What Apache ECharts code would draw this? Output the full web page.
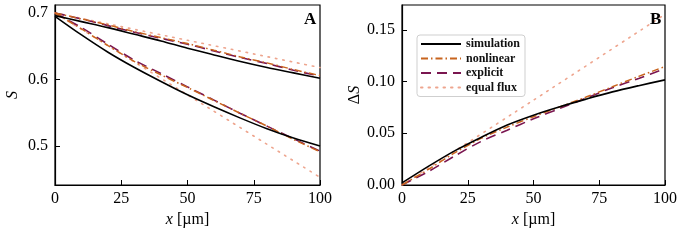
<!DOCTYPE html>
<html><head><meta charset="utf-8">
<script src="https://cdn.jsdelivr.net/npm/echarts@6/dist/echarts.min.js"></script>
<style>html,body{margin:0;padding:0;background:#fff}#c{width:686px;height:240px}</style>
</head><body><div id="c"></div>
<script>
const xs = [0,10,20,30,40,50,60,70,80,90,100];
const xsFlux = [0,50,100];
const xTicks = [0,25,50,75,100];
const yTicksA = [0.5,0.6,0.7];
const yTicksB = [0,0.05,0.1,0.15];
// Panel A: S
const simHigh = [0.696,0.687,0.678,0.668,0.658,0.647,0.637,0.627,0.618,0.610,0.602];
const simLow  = [0.695,0.667,0.641,0.618,0.597,0.577,0.559,0.542,0.526,0.512,0.500];
const nonHigh = [0.700,0.691,0.682,0.672,0.663,0.654,0.644,0.634,0.625,0.615,0.606];
const nonLow  = [0.700,0.676,0.651,0.627,0.607,0.588,0.5685,0.549,0.530,0.510,0.4915];
const expHigh = [0.700,0.691,0.681,0.671,0.662,0.653,0.643,0.633,0.624,0.614,0.605];
const expLow  = [0.700,0.678,0.653,0.629,0.609,0.589,0.569,0.549,0.530,0.511,0.4925];
const fluxHigh = [0.700,0.659,0.618];
const fluxLow  = [0.700,0.577,0.453];
// Panel B: ΔS
const dSim  = [0.002,0.018,0.033,0.046,0.058,0.0675,0.0756,0.083,0.090,0.096,0.1016];
const dNon  = [0.000,0.015,0.031,0.045,0.056,0.066,0.0755,0.085,0.095,0.105,0.1145];
const dExp  = [0.000,0.013,0.028,0.042,0.053,0.064,0.074,0.084,0.094,0.103,0.1125];
const dFlux = [0.000,0.082,0.165];

const names = ['simulation','nonlinear','explicit','equal flux'];
const styles = {
  'simulation': {color:'#000000', width:1.6, type:'solid'},
  'nonlinear': {color:'#c8641e', width:1.5, type:[7,3,1.5,3]},
  'explicit': {color:'#7a1650', width:1.6, type:[10,6]},
  'equal flux': {color:'#eea58e', width:1.6, type:[1.5,6], cap:'round'}
};
const zip = (a,b)=>a.map((v,i)=>[v,b[i]]);
function ser(name, x, y, gi, z){
  const s = styles[name];
  return {type:'line', name, xAxisIndex:gi, yAxisIndex:gi, data:zip(x,y), symbol:'none',
    smooth:0.3, z:z, lineStyle:{color:s.color,width:s.width,type:s.type,cap:s.cap||'butt'},
    itemStyle:{color:s.color}, emphasis:{disabled:true}, animation:false};
}
const font = 'Liberation Serif, DejaVu Serif, serif';
const xAxisCommon = (gi)=>({type:'value', gridIndex:gi, min:0, max:100, interval:25,
  name:'{i|x} [µm]', nameLocation:'middle', nameGap:26,
  nameTextStyle:{fontFamily:font, fontSize:16, color:'#000', rich:{i:{fontStyle:'italic',fontFamily:font,fontSize:16}}},
  axisLine:{show:true,lineStyle:{color:'#000',width:1.2}},
  axisTick:{show:true,inside:true,length:5,lineStyle:{color:'#000',width:1}},
  axisLabel:{fontFamily:font,fontSize:16,color:'#000',margin:6},
  splitLine:{show:false}});
const opt = {
  animation:false,
  grid:[
    {left:55,top:5,width:265,height:180,show:true,borderColor:'#000',borderWidth:1.2},
    {left:402,top:5,width:263,height:180,show:true,borderColor:'#000',borderWidth:1.2}
  ],
  xAxis:[xAxisCommon(0), xAxisCommon(1)],
  yAxis:[
    {type:'value', gridIndex:0, min:0.4415, max:0.712,
     name:'{i|S}', nameLocation:'middle', nameGap:34, nameRotate:90,
     nameTextStyle:{rich:{i:{fontStyle:'italic',fontFamily:font,fontSize:16,color:'#000'}}},
     axisLine:{show:true,lineStyle:{color:'#000',width:1.2}},
     axisTick:{show:true,inside:true,length:5,lineStyle:{color:'#000'},customValues:yTicksA},
     axisLabel:{fontFamily:font,fontSize:16,color:'#000',margin:7,customValues:yTicksA,formatter:v=>v.toFixed(1)},
     splitLine:{show:false}},
    {type:'value', gridIndex:1, min:0, max:0.174,
     name:'{u|Δ}{i|S}', nameLocation:'middle', nameGap:39, nameRotate:90,
     nameTextStyle:{rich:{u:{fontFamily:font,fontSize:16,color:'#000'},i:{fontStyle:'italic',fontFamily:font,fontSize:16,color:'#000'}}},
     axisLine:{show:true,lineStyle:{color:'#000',width:1.2}},
     axisTick:{show:true,inside:true,length:5,lineStyle:{color:'#000'},customValues:yTicksB},
     axisLabel:{fontFamily:font,fontSize:16,color:'#000',margin:7,customValues:yTicksB,formatter:v=>v.toFixed(2)},
     splitLine:{show:false}}
  ],
  title:[
    {text:'A', left:299, top:6, textStyle:{fontFamily:font,fontSize:17,fontWeight:'bold',color:'#000'}},
    {text:'B', left:645, top:6, textStyle:{fontFamily:font,fontSize:17,fontWeight:'bold',color:'#000'}}
  ],
  legend:{data:names, orient:'vertical', left:417, top:35, itemWidth:40, itemHeight:8, itemGap:2.5,
    padding:[3,5,3,3], borderColor:'#cfcfcf', borderWidth:1, borderRadius:3, backgroundColor:'#fff',
    itemStyle:{color:'rgba(0,0,0,0)', borderWidth:0, opacity:0},
    textStyle:{fontFamily:font, fontSize:12, color:'#111', fontWeight:'bold'},
    selectedMode:false},
  series:[
    ser('equal flux', xsFlux, fluxHigh, 0, 1), ser('equal flux', xsFlux, fluxLow, 0, 1),
    ser('simulation', xs, simHigh, 0, 4), ser('simulation', xs, simLow, 0, 4),
    ser('explicit', xs, expHigh, 0, 2), ser('explicit', xs, expLow, 0, 2),
    ser('nonlinear', xs, nonHigh, 0, 3), ser('nonlinear', xs, nonLow, 0, 3),
    ser('simulation', xs, dSim, 1, 4), ser('nonlinear', xs, dNon, 1, 3),
    ser('explicit', xs, dExp, 1, 2), ser('equal flux', xsFlux, dFlux, 1, 1)
  ]
};
const ch = echarts.init(document.getElementById('c'), null, {renderer:'canvas'});
ch.setOption(opt);
</script></body></html>
